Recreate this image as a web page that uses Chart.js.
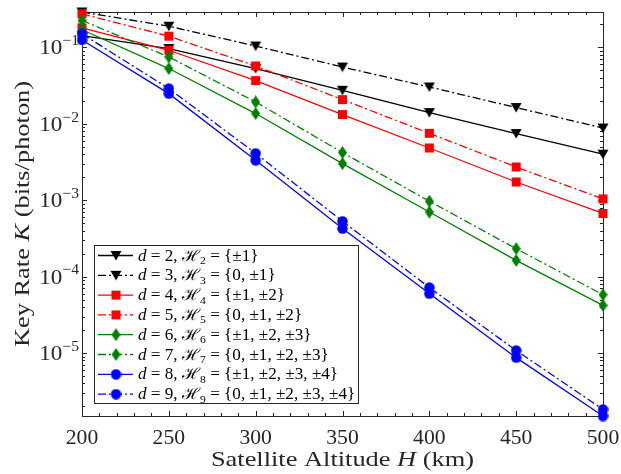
<!DOCTYPE html>
<html>
<head>
<meta charset="utf-8">
<script src="https://cdn.jsdelivr.net/npm/chart.js@4.4.0/dist/chart.umd.min.js"></script>
<style>
  html, body { margin: 0; padding: 0; background: #fff; }
  #wrap { width: 621px; height: 474px; }
</style>
</head>
<body>
<div id="wrap"><canvas id="keyRateChart" width="621" height="474"></canvas></div>
<script>
// altitudes (km) and key rates
const altitudes = [200, 250, 300, 350, 400, 450, 500];
const rateD2 = [0.142, 0.0965, 0.0528, 0.0274, 0.0140, 0.00745, 0.0040];
const rateD3 = [0.29, 0.189, 0.104, 0.0553, 0.0303, 0.0163, 0.0088];
const rateD4 = [0.18, 0.0916, 0.0367, 0.0132, 0.00482, 0.00173, 0.00067];
const rateD5 = [0.275, 0.140, 0.057, 0.0207, 0.0075, 0.00272, 0.00104];
const rateD6 = [0.17, 0.0528, 0.0136, 0.00301, 0.00070, 0.000163, 0.000042];
const rateD7 = [0.225, 0.0749, 0.0193, 0.0042, 0.00097, 0.000232, 0.000058];
const rateD8 = [0.125, 0.0248, 0.00333, 0.000425, 0.000060, 0.0000087, 0.0000015];
const rateD9 = [0.15, 0.0289, 0.0041, 0.00053, 0.000072, 0.0000108, 0.00000183];

const dims = [2, 3, 4, 5, 6, 7, 8, 9];
const alphabets = ['{±1}', '{0, ±1}', '{±1, ±2}', '{0, ±1, ±2}', '{±1, ±2, ±3}',
                   '{0, ±1, ±2, ±3}', '{±1, ±2, ±3, ±4}', '{0, ±1, ±2, ±3, ±4}'];
const xTicks = [200, 250, 300, 350, 400, 450, 500];
const yDecades = [-5, -4, -3, -2, -1];

const serif = '"Liberation Serif", "Times New Roman", serif';
const axisColor = '#262626';

// marker images in the MATLAB style
function makeMarker(shape, color) {
  const c = document.createElement('canvas');
  const w = shape === 'diamond' ? 9 : (shape === 'triangle' ? 12 : 11);
  const h = shape === 'diamond' ? 13 : 11;
  c.width = w; c.height = h;
  const g = c.getContext('2d');
  g.fillStyle = color;
  g.beginPath();
  if (shape === 'triangle') {
    g.moveTo(0.5, 1); g.lineTo(w - 0.5, 1); g.lineTo(w / 2, h - 0.5);
  } else if (shape === 'square') {
    g.rect(1, 1, 9, 9);
  } else if (shape === 'diamond') {
    g.moveTo(w / 2, 0); g.lineTo(w, h / 2); g.lineTo(w / 2, h); g.lineTo(0, h / 2);
  } else {
    g.arc(w / 2, h / 2, 5.2, 0, Math.PI * 2);
  }
  g.closePath();
  g.fill();
  return c;
}

const colors = ['#000000', '#000000', '#ff0000', '#ff0000', '#008000', '#008000', '#0000ff', '#0000ff'];
const shapes = ['triangle', 'triangle', 'square', 'square', 'diamond', 'diamond', 'circle', 'circle'];
const rates = [rateD2, rateD3, rateD4, rateD5, rateD6, rateD7, rateD8, rateD9];
const dashDot = [8, 3, 2, 3];

const markers = shapes.map((s, i) => makeMarker(s, colors[i]));

const datasets = rates.map((r, i) => ({
  label: 'd = ' + dims[i],
  data: altitudes.map((a, k) => ({ x: a, y: r[k] })),
  borderColor: colors[i],
  backgroundColor: colors[i],
  borderWidth: 1.3,
  borderDash: i % 2 ? dashDot : [],
  pointStyle: markers[i],
  pointRadius: 5,
  tension: 0,
  fill: false,
  clip: false,
  order: 8 - i   // later curves on top, like MATLAB
}));

// text made of plain / italic / sub / sup pieces, stretched a bit to look like LaTeX
function setFont(ctx, p, size) {
  const small = p[1] === 'sub' || p[1] === 'sup';
  ctx.font = (p[1] === 'i' ? 'italic ' : '') + (small ? size * 0.68 : size) + 'px ' + serif;
}
function richWidth(ctx, parts, size, sx) {
  let w = 0;
  parts.forEach(p => { setFont(ctx, p, size); w += ctx.measureText(p[0]).width; });
  return w * (sx || 1);
}
function drawRich(ctx, parts, x, y, size, sx) {
  ctx.save();
  ctx.translate(x, y);
  ctx.scale(sx || 1, 1);
  let cx = 0;
  parts.forEach(p => {
    setFont(ctx, p, size);
    let dy = 0;
    if (p[1] === 'sub') dy = size * 0.22;
    if (p[1] === 'sup') dy = -size * 0.42;
    ctx.fillText(p[0], cx, dy);
    cx += ctx.measureText(p[0]).width;
  });
  ctx.restore();
}

const axesPlugin = {
  id: 'matlabAxes',
  beforeDatasetsDraw(chart) {
    const ctx = chart.ctx;
    const a = chart.chartArea;
    const xs = chart.scales.x, ys = chart.scales.y;
    ctx.save();
    ctx.strokeStyle = axisColor;
    ctx.lineWidth = 1;
    ctx.beginPath();
    // x ticks, major every 50, minor every 10
    for (let v = 200; v <= 500; v += 10) {
      const px = Math.round(xs.getPixelForValue(v)) + 0.5;
      const len = v % 50 === 0 ? 5 : 3;
      ctx.moveTo(px, a.bottom); ctx.lineTo(px, a.bottom - len);
      ctx.moveTo(px, a.top); ctx.lineTo(px, a.top + len);
    }
    // y ticks, decades and 2..9 minor
    for (let e = -6; e <= -1; e++) {
      for (let m = 1; m <= 9; m++) {
        const v = m * Math.pow(10, e);
        if (v < ys.min || v > ys.max) continue;
        const py = Math.round(ys.getPixelForValue(v)) + 0.5;
        const len = m === 1 ? 5 : 3;
        ctx.moveTo(a.left, py); ctx.lineTo(a.left + len, py);
        ctx.moveTo(a.right, py); ctx.lineTo(a.right - len, py);
      }
    }
    ctx.stroke();
    ctx.strokeRect(Math.round(a.left) + 0.5, Math.round(a.top) + 0.5,
                   Math.round(a.right - a.left), Math.round(a.bottom - a.top));

    ctx.fillStyle = axisColor;
    ctx.textBaseline = 'alphabetic';
    ctx.textAlign = 'left';
    // x tick labels
    xTicks.forEach(t => {
      const parts = [[String(t), '']];
      const w = richWidth(ctx, parts, 21, 1.03);
      drawRich(ctx, parts, xs.getPixelForValue(t) - w / 2, a.bottom + 28, 21, 1.03);
    });
    // y tick labels 10^e
    yDecades.forEach(e => {
      const py = ys.getPixelForValue(Math.pow(10, e));
      const parts = [['10', ''], ['\u2212' + (-e), 'sup']];
      const w = richWidth(ctx, parts, 22, 1.05);
      drawRich(ctx, parts, a.left - 3 - w, py + 7, 22, 1.05);
    });
    // axis titles
    const xt = [['Satellite Altitude ', ''], ['H', 'i'], [' (km)', '']];
    const xw = richWidth(ctx, xt, 22, 1.2);
    drawRich(ctx, xt, (a.left + a.right) / 2 - xw / 2, a.bottom + 50, 22, 1.2);
    const yt = [['Key Rate ', ''], ['K', 'i'], [' (bits/photon)', '']];
    const yw = richWidth(ctx, yt, 22, 1.2);
    ctx.translate(29, (a.top + a.bottom) / 2);
    ctx.rotate(-Math.PI / 2);
    drawRich(ctx, yt, -yw / 2, 0, 22, 1.2);
    ctx.restore();
  },
  afterDatasetsDraw(chart) {
    const ctx = chart.ctx;
    const a = chart.chartArea;
    const lx = a.left + 12, ly = a.bottom - 171, lw = 264, lh = 158;
    ctx.save();
    ctx.fillStyle = '#fff';
    ctx.fillRect(lx, ly, lw, lh);
    ctx.strokeStyle = axisColor;
    ctx.lineWidth = 1;
    ctx.strokeRect(Math.round(lx) + 0.5, Math.round(ly) + 0.5, lw, lh);
    dims.forEach((d, i) => {
      const cy = ly + 10.5 + i * 19.8;
      ctx.strokeStyle = colors[i];
      ctx.lineWidth = 1.3;
      ctx.setLineDash(i % 2 ? dashDot : []);
      ctx.beginPath();
      ctx.moveTo(lx + 4, cy); ctx.lineTo(lx + 39, cy);
      ctx.stroke();
      ctx.setLineDash([]);
      const m = markers[i];
      ctx.drawImage(m, lx + 22 - m.width / 2, cy - m.height / 2);
      ctx.fillStyle = '#000';
      drawRich(ctx, [['d', 'i'], [' = ' + d + ', ', ''], ['\u210B', ''], [String(d), 'sub'],
                     [' = ' + alphabets[i], '']], lx + 44, cy + 5, 16, 1.07);
    });
    ctx.restore();
  }
};

new Chart(document.getElementById('keyRateChart').getContext('2d'), {
  type: 'line',
  data: { datasets: datasets },
  options: {
    responsive: false,
    animation: false,
    layout: { padding: { left: 0, right: 18, top: 12, bottom: 0 } },
    plugins: { legend: { display: false }, tooltip: { enabled: false } },
    scales: {
      x: {
        type: 'linear', min: 200, max: 500,
        grid: { display: false }, border: { display: false },
        ticks: { display: false },
        afterFit: s => { s.height = 58; }
      },
      y: {
        type: 'logarithmic', min: 1.5e-6, max: 0.29,
        grid: { display: false }, border: { display: false },
        ticks: { display: false },
        afterFit: s => { s.width = 82; }
      }
    }
  },
  plugins: [axesPlugin]
});
</script>
</body>
</html>
